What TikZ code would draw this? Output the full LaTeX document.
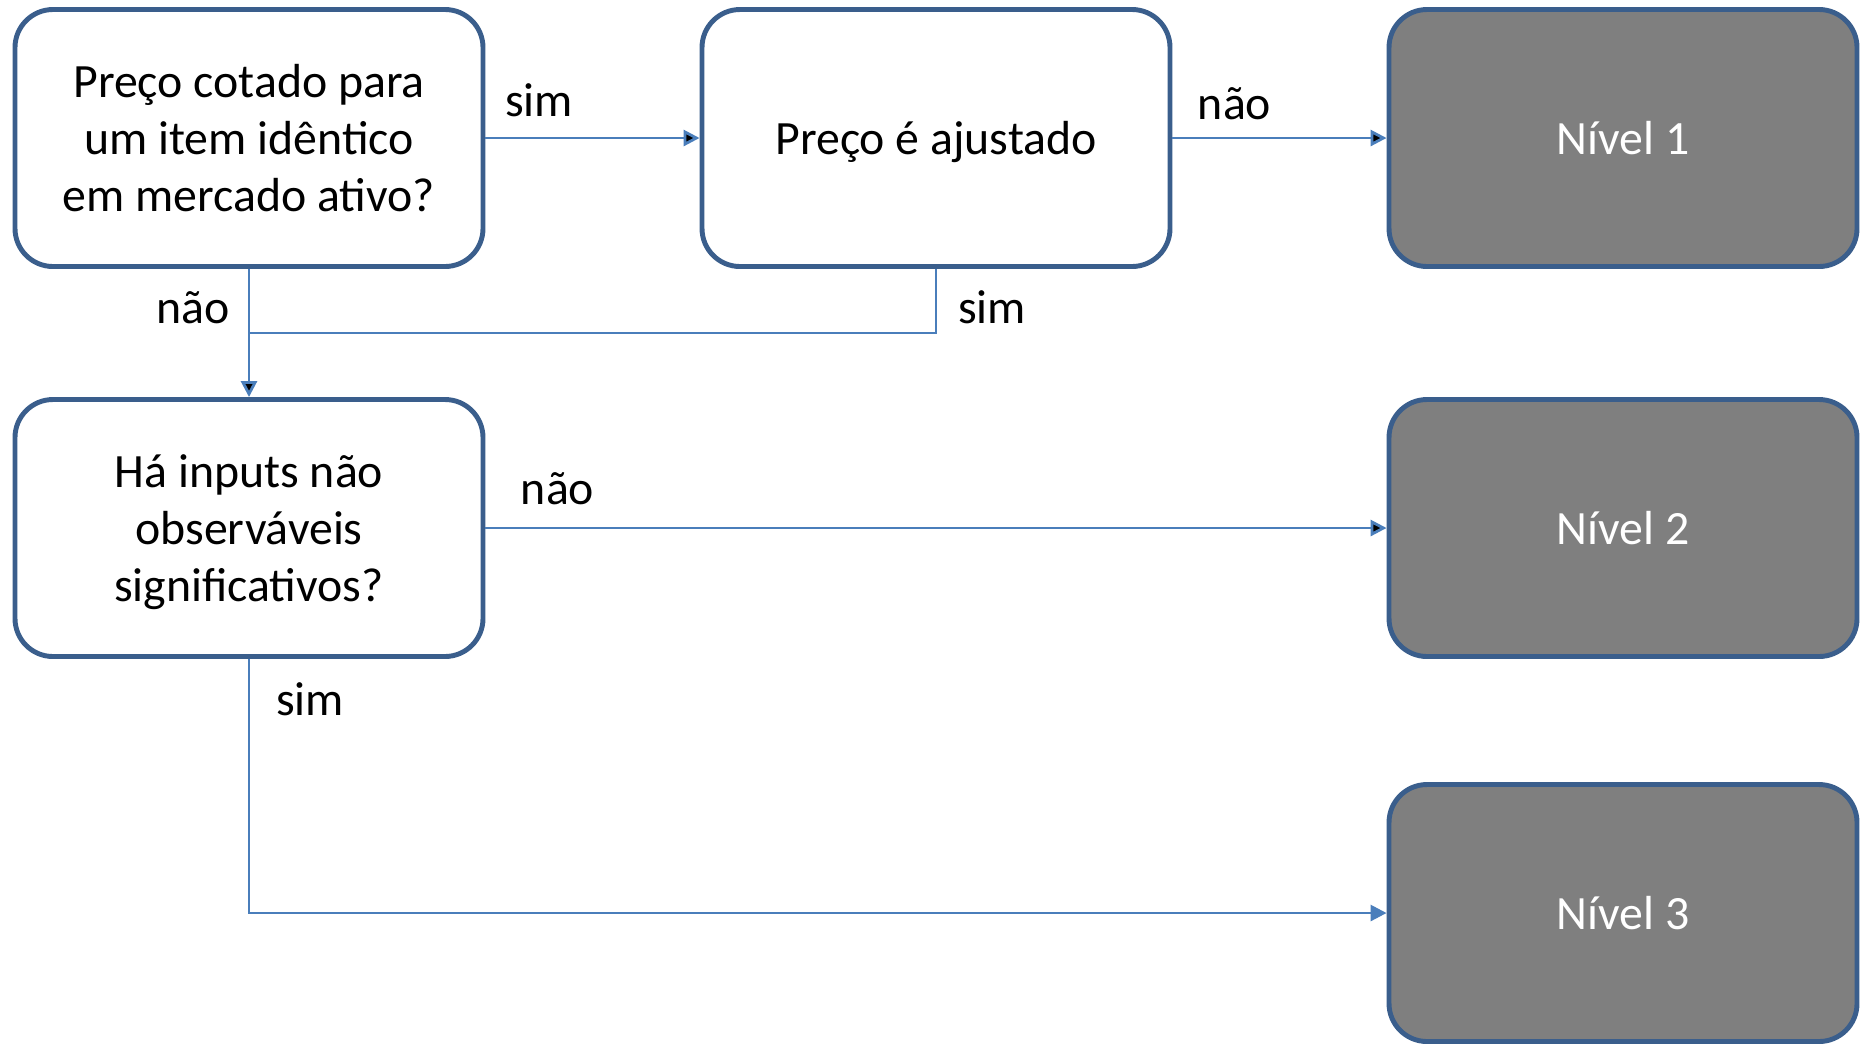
\documentclass[tikz,border=0pt]{standalone}
\usepackage{fontspec}
\setmainfont{Carlito}
\usetikzlibrary{arrows.meta, positioning}
\definecolor{boxline}{HTML}{3A5E8C}
\definecolor{arrowline}{HTML}{4A7EBB}
\definecolor{levelfill}{HTML}{7F7F7F}

\begin{document}
\begin{tikzpicture}[node distance=6.87cm,
  question/.style={draw=boxline, line width=1.4pt, rounded corners=3.8mm, fill=white,
    minimum width=4.68cm, minimum height=2.57cm, align=center, text depth=0pt,
    font=\fontsize{13.6}{16.3}\selectfont},
  level/.style={question, fill=levelfill, text=white},
  link/.style={draw=arrowline, line width=0.8pt},
  arr/.style={link, -{Triangle[length=1.6mm, width=1.6mm]}},
  lbl/.style={font=\fontsize{13.6}{16.3}\selectfont, inner sep=0pt, anchor=center}]
\useasboundingbox (0,0) rectangle (18.6,-10.44);

\node (Q1) [question] at (2.49,-1.38) {Preço cotado para\\um item idêntico\\em mercado ativo?};
\node (AJ) [question, right of=Q1] {Preço é ajustado};
\node (N1) [level, right of=AJ] {Nível 1};
\node (Q2) [question, below of=Q1, node distance=3.9cm] {Há inputs não\\observáveis\\significativos?};
\node (N2) [level, below of=N1, node distance=3.9cm] {Nível 2};
\node (N3) [level, below of=N2, node distance=3.85cm] {Nível 3};
\coordinate (J) at (0,-3.33);

\path[arr] (Q1) edge node[lbl, pos=0.25, yshift=3.8mm] {sim} (AJ);
\path[arr] (AJ) edge node[lbl, pos=0.29, yshift=3.4mm] {não} (N1);
\path[arr] (Q1) edge node[lbl, pos=0.3, xshift=-5.6mm] {não} (Q2);
\draw[link] (AJ.south) |- node[lbl, pos=0.3, xshift=5.6mm] {sim} (Q1.south |- J);
\path[arr] (Q2) edge node[lbl, pos=0.08, yshift=3.9mm] {não} (N2);
\draw[arr] (Q2.south) |- node[lbl, pos=0.08, xshift=6.1mm] {sim} (N3.west);
\end{tikzpicture}
\end{document}
